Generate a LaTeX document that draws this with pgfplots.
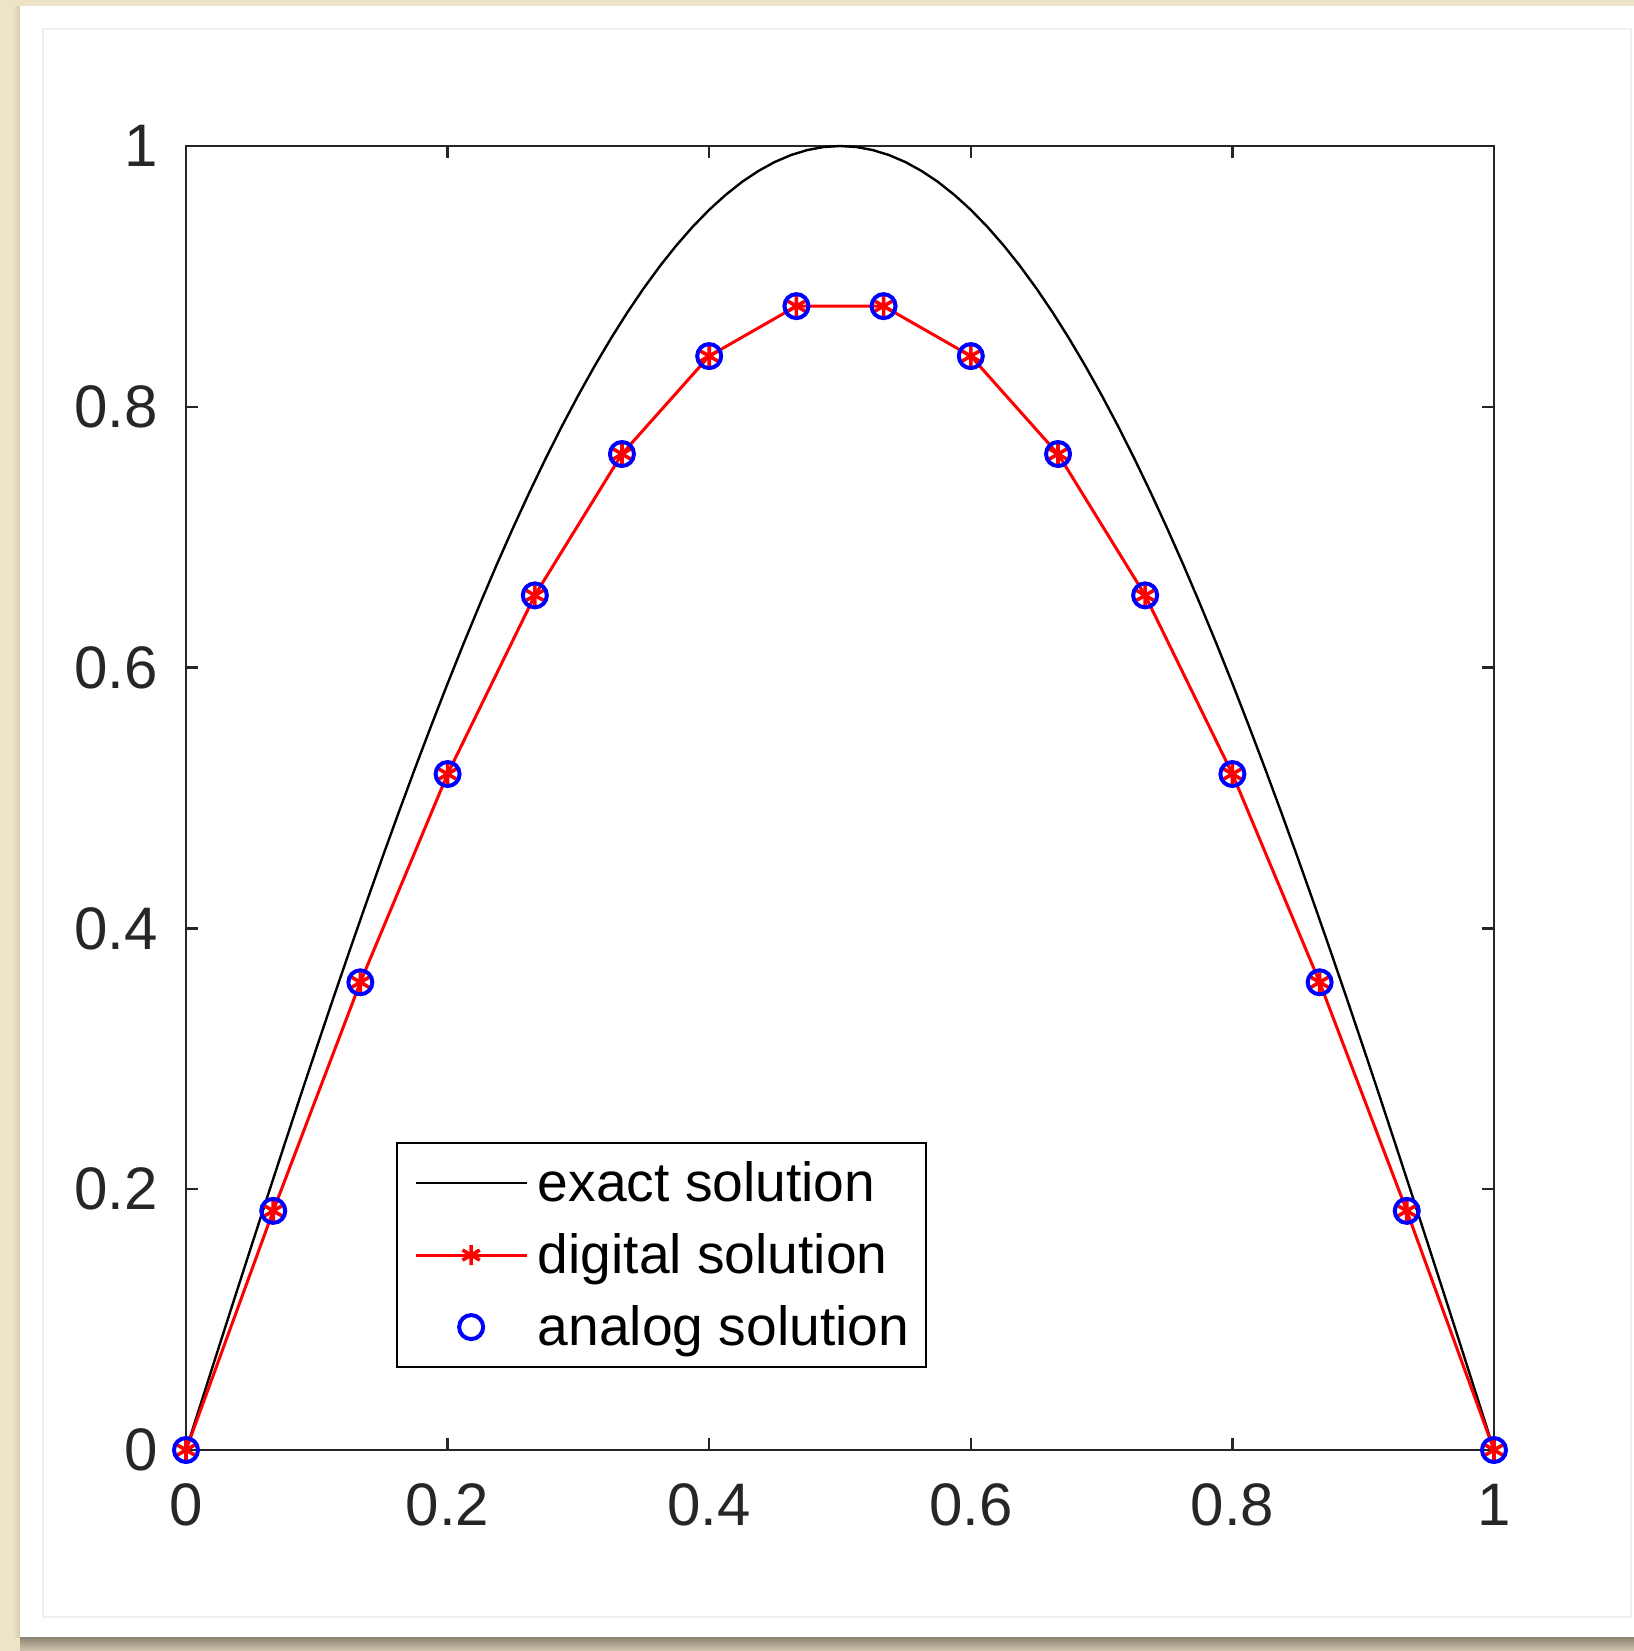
\documentclass[border=0pt]{standalone}
\usepackage{pgfplots}
\pgfplotsset{compat=1.18}
\usepackage{fontspec}
\setmainfont{Liberation Sans}
\definecolor{beige}{RGB}{237,228,200}
\definecolor{axgray}{RGB}{38,38,38}
\definecolor{shadowc}{RGB}{140,132,115}
\begin{document}
\begin{tikzpicture}
\fill[beige] (0,0) rectangle (408.5pt,-412.75pt);
\shade[top color=shadowc, bottom color=beige!70!shadowc] (5pt,-409.25pt) rectangle (408.5pt,-412.75pt);
\shade[left color=beige, right color=beige!75!shadowc] (3pt,-1.5pt) rectangle (5pt,-409.25pt);
\fill[white] (5pt,-1.5pt) rectangle (408.5pt,-409.25pt);
\draw[line width=0.4pt, black!6] (10.75pt,-7.25pt) rectangle (407.75pt,-404.25pt);
\begin{axis}[
  at={(46.5pt,-362.5pt)}, anchor=south west,
  scale only axis, width=327pt, height=326pt,
  xmin=0, xmax=1, ymin=0, ymax=1,
  xtick={0,0.2,0.4,0.6,0.8,1}, ytick={0,0.2,0.4,0.6,0.8,1},
  tick align=inside, tick pos=both, major tick length=3pt,
  axis line style={axgray, line width=0.6pt},
  every tick/.style={axgray, line width=0.6pt},
  tick label style={font=\fontsize{15}{18}\selectfont, text=axgray, inner sep=0pt},
  /pgf/number format/assume math mode=true,
  xticklabel style={anchor=north, yshift=-8.25pt},
  yticklabel style={anchor=east, xshift=-6.8pt},
  clip=false,
  legend cell align=left,
  legend style={at={(0.1606,0.236)}, anchor=north west, draw=black, line width=0.5pt,
    fill=white, inner xsep=4.25pt, inner ysep=3.45pt,
    font=\fontsize{13.8}{16}\selectfont, row sep=5.0pt, column sep=2.45pt,
    nodes={inner sep=0pt, text height=11pt, text depth=2pt, anchor=west}},
  legend image code/.code={\draw[mark repeat=2,mark phase=2,#1] plot coordinates {(0pt,0pt) (13.9pt,0pt) (27.75pt,0pt)};},
]
\addplot[black, line width=0.6pt] coordinates {
(0,0)(0.0125,0.03926)(0.025,0.0785)(0.0375,0.11754)(0.05,0.1564)(0.0625,0.19509)(0.075,0.2334)(0.0875,0.27144)(0.1,0.3090)(0.1125,0.34612)(0.125,0.3827)(0.1375,0.41866)(0.15,0.4540)(0.1625,0.48862)(0.175,0.5225)(0.1875,0.55557)(0.2,0.5878)(0.2125,0.61909)(0.225,0.6494)(0.2375,0.67880)(0.25,0.7071)(0.2625,0.73432)(0.275,0.7604)(0.2875,0.78531)(0.3,0.8090)(0.3125,0.83147)(0.325,0.8526)(0.3375,0.87250)(0.35,0.8910)(0.3625,0.90814)(0.375,0.9239)(0.3875,0.93819)(0.4,0.9511)(0.4125,0.96246)(0.425,0.9724)(0.4375,0.98079)(0.45,0.9877)(0.4625,0.99307)(0.475,0.9969)(0.4875,0.99923)(0.5,1)
(0.5125,0.99923)(0.525,0.9969)(0.5375,0.99307)(0.55,0.9877)(0.5625,0.98079)(0.575,0.9724)(0.5875,0.96246)(0.6,0.9511)(0.6125,0.93819)(0.625,0.9239)(0.6375,0.90814)(0.65,0.8910)(0.6625,0.87250)(0.675,0.8526)(0.6875,0.83147)(0.7,0.8090)(0.7125,0.78531)(0.725,0.7604)(0.7375,0.73432)(0.75,0.7071)(0.7625,0.67880)(0.775,0.6494)(0.7875,0.61909)(0.8,0.5878)(0.8125,0.55557)(0.825,0.5225)(0.8375,0.48862)(0.85,0.4540)(0.8625,0.41866)(0.875,0.3827)(0.8875,0.34612)(0.9,0.3090)(0.9125,0.27144)(0.925,0.2334)(0.9375,0.19509)(0.95,0.1564)(0.9625,0.11754)(0.975,0.0785)(0.9875,0.03926)(1,0)};
\addlegendentry{exact solution}
\addplot[red, line width=0.75pt, mark=asterisk, mark size=2.5pt, mark options={solid, line width=0.9pt}] coordinates {
(0,0)(0.0667,0.1834)(0.1333,0.3587)(0.2,0.5184)(0.2667,0.6554)(0.3333,0.7638)(0.4,0.8389)(0.4667,0.8772)(0.5333,0.8772)(0.6,0.8389)(0.6667,0.7638)(0.7333,0.6554)(0.8,0.5184)(0.8667,0.3587)(0.9333,0.1834)(1,0)};
\addlegendentry{digital solution}
\addplot[blue, only marks, mark=o, mark size=3.0pt, mark options={line width=1pt}] coordinates {
(0,0)(0.0667,0.1834)(0.1333,0.3587)(0.2,0.5184)(0.2667,0.6554)(0.3333,0.7638)(0.4,0.8389)(0.4667,0.8772)(0.5333,0.8772)(0.6,0.8389)(0.6667,0.7638)(0.7333,0.6554)(0.8,0.5184)(0.8667,0.3587)(0.9333,0.1834)(1,0)};
\addlegendentry{analog solution}
\end{axis}
\pgfresetboundingbox
\path[use as bounding box] (0,0) rectangle (408.5pt,-412.75pt);
\end{tikzpicture}
\end{document}
